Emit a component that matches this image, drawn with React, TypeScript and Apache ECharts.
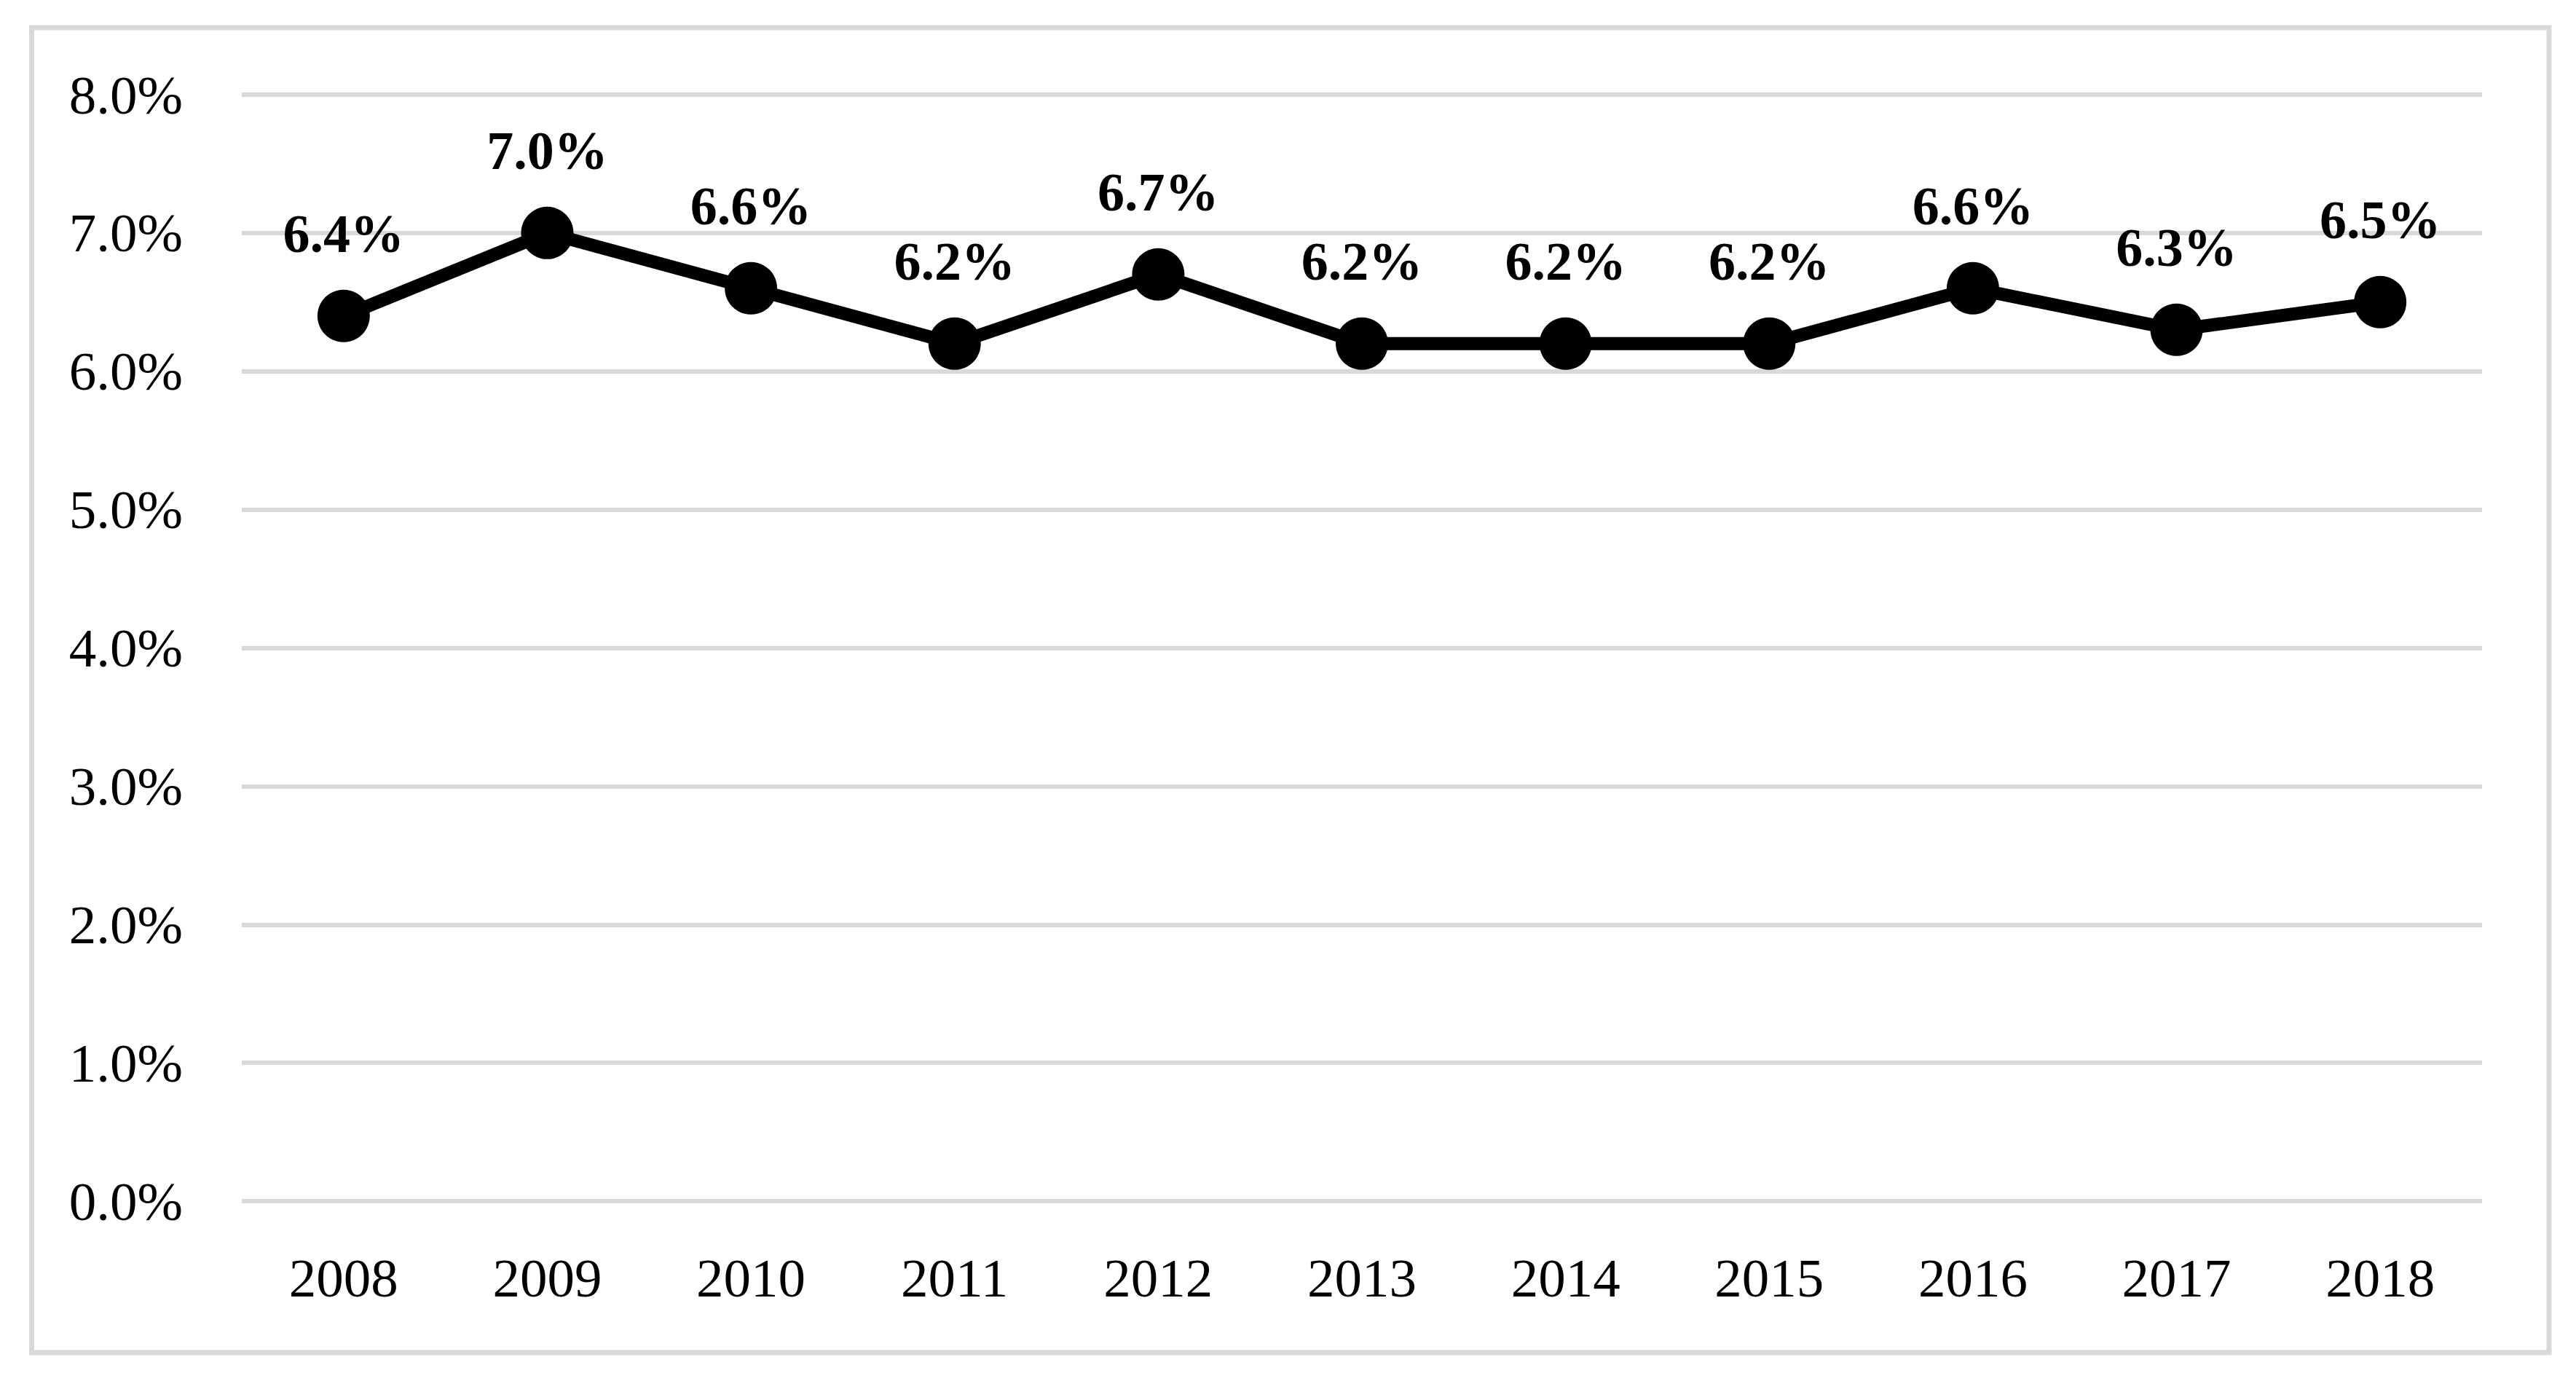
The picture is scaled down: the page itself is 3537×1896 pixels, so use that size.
import React, { useEffect, useRef } from "react";
import * as echarts from "echarts";

const years = ["2008", "2009", "2010", "2011", "2012", "2013", "2014", "2015", "2016", "2017", "2018"];
const rates = [6.4, 7.0, 6.6, 6.2, 6.7, 6.2, 6.2, 6.2, 6.6, 6.3, 6.5];
const yMin = 0;
const yMax = 8;
const yStep = 1;

const FONT = "'Liberation Serif', 'Times New Roman', serif";

export default function App() {
  const ref = useRef<HTMLDivElement>(null);
  useEffect(() => {
    if (!ref.current) return;
    const chart = echarts.init(ref.current, undefined, { renderer: "svg" });
    chart.setOption({
      animation: false,
      backgroundColor: "#ffffff",
      textStyle: { fontFamily: FONT },
      graphic: [
        {
          type: "rect",
          shape: { x: 43.5, y: 38, width: 3456.5, height: 1819 },
          style: { fill: "none", stroke: "#d9d9d9", lineWidth: 7 },
          silent: true,
        },
      ],
      grid: { left: 332, right: 129, top: 130, bottom: 247 },
      xAxis: {
        type: "category",
        data: years,
        boundaryGap: true,
        axisLine: { show: false },
        axisTick: { show: false },
        axisLabel: { color: "#000", fontSize: 75, fontFamily: FONT, margin: 68 },
        splitLine: { show: false },
      },
      yAxis: {
        type: "value",
        min: yMin,
        max: yMax,
        interval: yStep,
        axisLine: { show: false },
        axisTick: { show: false },
        axisLabel: {
          color: "#000",
          fontSize: 75,
          fontFamily: FONT,
          margin: 81,
          formatter: (v: number) => v.toFixed(1) + "%",
        },
        splitLine: { show: true, lineStyle: { color: "#d9d9d9", width: 6 } },
      },
      series: [
        {
          type: "line",
          data: rates,
          symbol: "circle",
          symbolSize: 72,
          lineStyle: { color: "#000", width: 18 },
          itemStyle: { color: "#000" },
          label: {
            show: true,
            position: "top",
            distance: 40,
            color: "#000",
            fontSize: 74,
            fontWeight: "bold",
            fontFamily: FONT,
            formatter: (p: any) => Number(p.value).toFixed(1) + "%",
          },
        },
      ],
    });
    return () => chart.dispose();
  }, []);
  return (
    <div
      ref={ref}
      style={{ position: "fixed", left: 0, top: 0, width: 3537, height: 1896, background: "#fff" }}
    />
  );
}
